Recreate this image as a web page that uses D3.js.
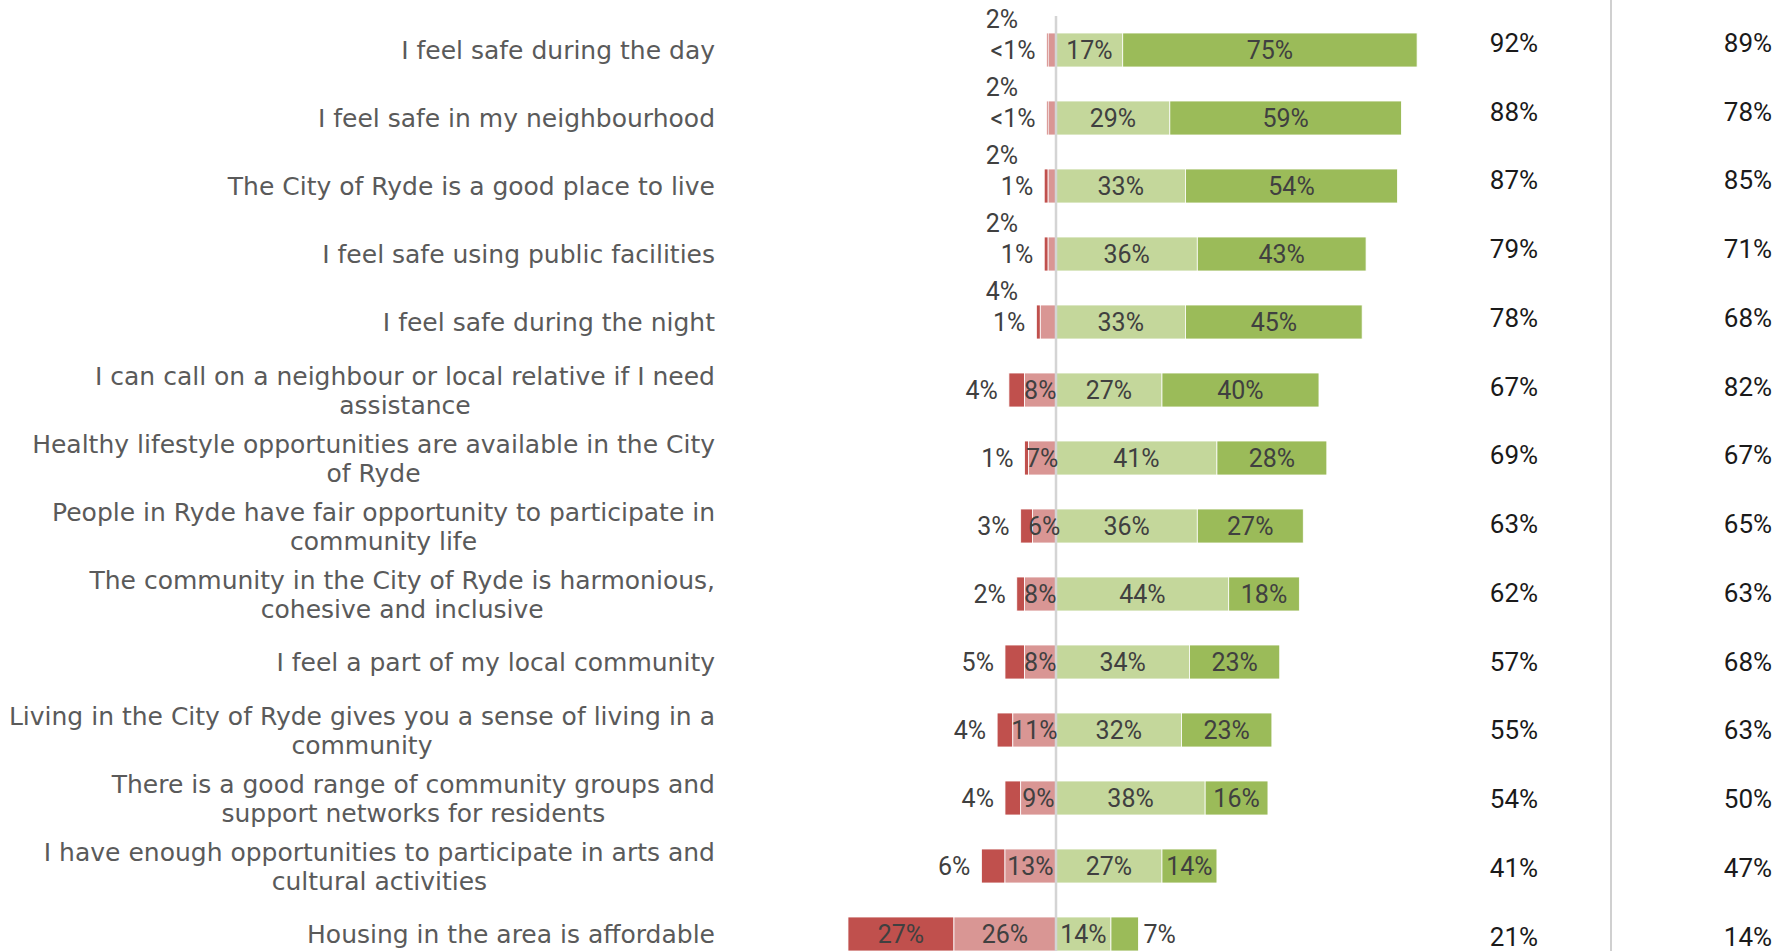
<!DOCTYPE html>
<html>
<head>
<meta charset="utf-8">
<script src="https://cdn.jsdelivr.net/npm/d3@7"></script>
<style>
  body { margin: 0; background: #fff; }
  .stmt { font-family: "DejaVu Sans", sans-serif; font-size: 25px; fill: #5a5a5a; }
  .barlab { font-family: Roboto, sans-serif; font-size: 25px; fill: #404040; }
  .tablab { font-family: Roboto, sans-serif; font-size: 26px; fill: #1a1a1a; }
</style>
</head>
<body>
<div id="chart"></div>
<script>
// statements, top to bottom ("\n" = line break as in the original)
var statements = [
  "I feel safe during the day",
  "I feel safe in my neighbourhood",
  "The City of Ryde is a good place to live",
  "I feel safe using public facilities",
  "I feel safe during the night",
  "I can call on a neighbour or local relative if I need\nassistance",
  "Healthy lifestyle opportunities are available in the City\nof Ryde",
  "People in Ryde have fair opportunity to participate in\ncommunity life",
  "The community in the City of Ryde is harmonious,\ncohesive and inclusive",
  "I feel a part of my local community",
  "Living in the City of Ryde gives you a sense of living in a\ncommunity",
  "There is a good range of community groups and\nsupport networks for residents",
  "I have enough opportunities to participate in arts and\ncultural activities",
  "Housing in the area is affordable"
];

// % of respondents (0.4 stands for "<1%")
var strongDisagree = [0.4, 0.4, 1, 1, 1, 4, 1, 3, 2, 5, 4, 4, 6, 27];
var disagree       = [2, 2, 2, 2, 4, 8, 7, 6, 8, 8, 11, 9, 13, 26];
var agree          = [17, 29, 33, 36, 33, 27, 41, 36, 44, 34, 32, 38, 27, 14];
var strongAgree    = [75, 59, 54, 43, 45, 40, 28, 27, 18, 23, 23, 16, 14, 7];

// table columns on the right
var totalAgree    = [92, 88, 87, 79, 78, 67, 69, 63, 62, 57, 55, 54, 41, 21];
var previousAgree = [89, 78, 85, 71, 68, 82, 67, 65, 63, 68, 63, 50, 47, 14];

var width = 1777, height = 951;
var labelRight = 715, col1X = 1514, col2X = 1748, sepX = 1611;

var fmt = function (v) { return v < 1 ? "<1%" : v + "%"; };

var rows = d3.range(statements.length);

var svg = d3.select("#chart")
  .append("svg")
  .attr("width", width)
  .attr("height", height);

// scales
var x = d3.scaleLinear().domain([-100, 100]).range([663.5, 1448.5]);
var y = d3.scaleBand().domain(rows).range([16, 968]).paddingInner(0.5).paddingOuter(0.25);
var yTable = d3.scaleBand().domain(rows).range([8.5, 971]);
var cy = function (i) { return y(i) + y.bandwidth() / 2; };

// build stacked segments, negative side goes left from zero
var segs = [];
rows.forEach(function (i) {
  var d = disagree[i], sd = strongDisagree[i], a = agree[i], sa = strongAgree[i];
  segs.push({ row: i, key: "sd", v: sd, x0: -(d + sd), x1: -d, color: "#c0504d" });
  segs.push({ row: i, key: "d", v: d, x0: -d, x1: 0, color: "#d99694" });
  segs.push({ row: i, key: "a", v: a, x0: 0, x1: a, color: "#c4d79b" });
  segs.push({ row: i, key: "sa", v: sa, x0: a, x1: a + sa, color: "#9bbb59" });
});

// Add bars
svg.append("g")
  .selectAll("rect")
  .data(segs)
  .enter()
  .append("rect")
  .attr("x", function (s) { return x(s.x0); })
  .attr("y", function (s) { return y(s.row); })
  .attr("width", function (s) { return x(s.x1) - x(s.x0); })
  .attr("height", y.bandwidth())
  .style("fill", function (s) { return s.color; })
  .style("stroke", "#fff")
  .style("stroke-width", 0.8);

// zero line
svg.append("line")
  .attr("x1", x(0)).attr("x2", x(0))
  .attr("y1", y.range()[0]).attr("y2", height)
  .style("stroke", "#d4d4d4")
  .style("stroke-width", 2.5);

// separator between the two table columns
svg.append("line")
  .attr("x1", sepX).attr("x2", sepX)
  .attr("y1", 0).attr("y2", height)
  .style("stroke", "#c0c0c0")
  .style("stroke-width", 1.5);

// Add bar value labels
svg.append("g")
  .selectAll("text")
  .data(segs)
  .enter()
  .append("text")
  .attr("class", "barlab")
  .attr("dominant-baseline", "central")
  .attr("text-anchor", function (s) {
    if (s.key == "sd" && s.v < 10) return "end";
    if (s.key == "sa" && s.v < 10) return "start";
    return "middle";
  })
  .attr("x", function (s) {
    if (s.key == "sd" && s.v < 10) return x(s.x0) - 11;
    if (s.key == "d" && s.v < 5) return x(0) - 54;
    if (s.key == "sa" && s.v < 10) return x(s.x1) + 5;
    return (x(s.x0) + x(s.x1)) / 2;
  })
  .attr("y", function (s) {
    // small "disagree" values sit above the bar
    if (s.key == "d" && s.v < 5) return cy(s.row) - 31;
    return cy(s.row);
  })
  .text(function (s) { return fmt(s.v); });

// Add statement labels (right aligned block, lines centred)
var lab = svg.append("g")
  .selectAll("text")
  .data(rows)
  .enter()
  .append("text")
  .attr("class", "stmt")
  .attr("text-anchor", "middle")
  .attr("dominant-baseline", "central");

lab.each(function (i) {
  var lines = statements[i].split("\n");
  var t = d3.select(this);
  var lh = 29;
  var tsp = t.selectAll("tspan")
    .data(lines)
    .enter()
    .append("tspan")
    .attr("y", function (l, k) { return cy(i) + (k - (lines.length - 1) / 2) * lh; })
    .text(function (l) { return l; });
  var w = 0;
  tsp.each(function () { w = Math.max(w, this.getComputedTextLength()); });
  tsp.attr("x", labelRight - w / 2);
});

// Add table columns
[totalAgree, previousAgree].forEach(function (col, c) {
  svg.append("g")
    .selectAll("text")
    .data(rows)
    .enter()
    .append("text")
    .attr("class", "tablab")
    .attr("text-anchor", "middle")
    .attr("dominant-baseline", "central")
    .attr("x", c == 0 ? col1X : col2X)
    .attr("y", function (i) { return yTable(i) + yTable.bandwidth() / 2; })
    .text(function (i) { return col[i] + "%"; });
});
</script>
</body>
</html>
